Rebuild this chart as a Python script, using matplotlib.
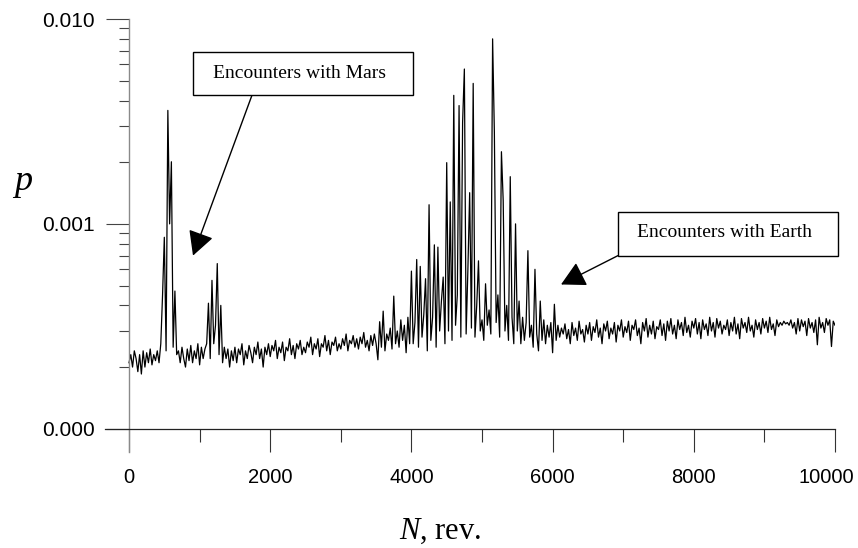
import numpy as np
import matplotlib.pyplot as plt
from matplotlib.patches import Rectangle
from matplotlib.transforms import ScaledTranslation

plt.rcParams['mathtext.fontset'] = 'custom'
plt.rcParams['mathtext.rm'] = 'Liberation Serif'
plt.rcParams['mathtext.it'] = 'Liberation Serif:italic'

# revolution number, sampled every 25 rev
N = np.arange(0, 10001, 25)

# encounter probability per step, in units of 1e-4
p_e4 = [
    2.1, 2.3, 2.0, 2.4, 2.2, 1.9, 2.3, 1.85, 2.4, 2.0, 2.35, 2.1, 2.45, 2.05, 2.3, 2.15, 2.4, 2.1, 2.6, 4.5,
    8.6, 2.4, 35.8, 10.0, 20.1, 2.5, 4.7, 2.3, 2.4, 2.1, 2.5, 2.2, 2.0, 2.45, 2.15, 2.55, 2.1, 2.4, 2.2, 2.6,
    2.05, 2.5, 2.2, 2.45, 2.6, 4.1, 2.2, 5.3, 2.6, 3.2, 6.4, 2.3, 4.0, 2.1, 2.5, 2.2, 2.45, 2.0, 2.4, 2.15,
    2.5, 2.1, 2.45, 2.3, 2.6, 2.05, 2.4, 2.2, 2.55, 2.35, 2.1, 2.5, 2.3, 2.65, 2.2, 2.45, 2.0, 2.5, 2.3, 2.6,
    2.25, 2.55, 2.4, 2.7, 2.2, 2.5, 2.35, 2.65, 2.15, 2.5, 2.4, 2.75, 2.3, 2.55, 2.2, 2.6, 2.45, 2.7, 2.3, 2.5,
    2.35, 2.65, 2.5, 2.8, 2.3, 2.6, 2.45, 2.75, 2.25, 2.6, 2.5, 2.85, 2.4, 2.7, 2.3, 2.65, 2.55, 2.8, 2.4, 2.6,
    2.45, 2.75, 2.55, 2.9, 2.4, 2.7, 2.6, 2.85, 2.5, 2.75, 2.45, 2.8, 2.6, 2.95, 2.5, 2.7, 2.4, 2.85, 2.55, 2.9,
    2.6, 2.17, 3.33, 2.5, 3.75, 2.4, 2.9, 2.7, 3.1, 2.45, 4.44, 2.6, 3.0, 2.5, 3.4, 2.7, 3.2, 2.35, 3.5, 2.6,
    5.88, 2.6, 3.3, 6.7, 2.5, 6.2, 2.8, 3.6, 5.4, 2.4, 12.4, 2.7, 3.5, 7.9, 2.5, 7.7, 3.0, 4.2, 5.5, 2.6,
    19.9, 3.0, 12.8, 2.7, 42.4, 3.2, 4.5, 37.8, 2.8, 31.2, 57.0, 2.9, 6.0, 14.2, 3.1, 48.5, 2.8, 4.0, 6.6, 3.0,
    3.4, 2.7, 5.1, 3.2, 3.8, 2.9, 80.0, 28.0, 3.3, 4.5, 2.8, 22.5, 13.0, 3.0, 4.0, 2.7, 17.0, 3.5, 2.6, 10.0,
    3.0, 4.2, 2.6, 3.5, 2.7, 3.3, 7.4, 2.8, 3.2, 2.5, 6.0, 2.9, 2.4, 4.2, 2.7, 3.4, 2.6, 3.2, 2.8, 3.3,
    2.35, 4.05, 2.7, 3.2, 2.8, 3.1, 2.9, 3.25, 2.75, 3.05, 2.6, 3.3, 2.85, 3.1, 2.7, 3.35, 2.9, 3.05, 2.65, 3.2,
    2.9, 3.3, 2.7, 3.15, 2.95, 3.4, 2.8, 3.1, 2.6, 3.25, 3.0, 3.35, 2.75, 3.1, 2.9, 3.3, 2.65, 3.2, 3.0, 3.4,
    2.8, 3.15, 2.95, 3.35, 2.7, 3.2, 3.05, 3.4, 2.85, 3.1, 2.6, 3.3, 3.0, 3.45, 2.8, 3.2, 2.9, 3.35, 2.75, 3.15,
    3.05, 3.4, 2.85, 3.25, 2.7, 3.35, 3.0, 3.45, 2.9, 3.2, 2.75, 3.4, 3.05, 3.3, 2.85, 3.5, 2.95, 3.2, 2.8, 3.35,
    3.1, 3.45, 2.9, 3.3, 2.75, 3.4, 3.05, 3.25, 2.85, 3.5, 3.0, 3.3, 2.8, 3.45, 3.1, 3.35, 2.9, 3.2, 3.05, 3.4,
    2.85, 3.3, 3.0, 3.5, 2.9, 3.25, 2.75, 3.45, 3.1, 3.3, 2.95, 3.5, 3.0, 3.2, 2.8, 3.4, 3.05, 3.3, 2.9, 3.45,
    3.1, 3.35, 2.95, 3.5, 3.05, 3.25, 2.85, 3.4, 3.15, 3.3, 3.2, 3.35, 3.25, 3.3, 3.2, 3.4, 3.1, 3.3, 2.9, 3.45,
    3.0, 3.4, 3.15, 3.35, 2.85, 3.45, 3.1, 3.3, 2.95, 3.4, 2.57, 3.5, 3.1, 3.3, 2.95, 3.45, 3.2, 3.4, 2.52, 3.35,
    3.2,
]
p = np.array(p_e4) * 1e-4

x_ticks = [0, 2000, 4000, 6000, 8000, 10000]
x_minor = [1000, 3000, 5000, 7000, 9000]
y_ticks = [1e-4, 1e-3, 1e-2]
y_labels = ["0.000", "0.001", "0.010"]

serif = "Liberation Serif"

fig = plt.figure(figsize=(8.58, 5.48), dpi=100)
ax = fig.add_axes([0.1224, 0.1752, 0.8508, 0.7901])

ax.plot(N, p, color="black", lw=0.9)

ax.set_yscale("log")
ax.set_xlim(-340, 10000)
ax.set_ylim(7.7e-5, 1e-2)

# axes cross at (0, 1e-4)
ax.spines["top"].set_visible(False)
ax.spines["right"].set_visible(False)
ax.spines["left"].set_position(("data", 0))
ax.spines["bottom"].set_position(("data", 1e-4))
ax.spines["left"].set_color("#8a8a8a")
ax.spines["bottom"].set_color("#222222")
ax.spines["left"].set_linewidth(1.0)
ax.spines["bottom"].set_linewidth(0.9)

ax.set_xticks(x_ticks)
ax.set_xticklabels([str(v) for v in x_ticks],
                   fontdict=dict(family="Liberation Sans", size=14.5))
ax.set_xticks(x_minor, minor=True)
ax.set_yticks(y_ticks)
ax.set_yticklabels(y_labels, fontdict=dict(family="Liberation Sans", size=15))
y_minor = [m * d for d in (1e-4, 1e-3) for m in range(2, 10)]
ax.set_yticks(y_minor, minor=True)
ax.yaxis.set_minor_formatter(plt.NullFormatter())

ax.tick_params(axis="x", which="major", direction="out", length=16.5, width=0.8,
               color="#333333", pad=12)
ax.tick_params(axis="x", which="minor", direction="out", length=9.5, width=0.8,
               color="#333333")
ax.tick_params(axis="y", which="major", direction="out", length=16.5, width=0.8,
               color="#444444", pad=8)
ax.tick_params(axis="y", which="minor", direction="out", length=7.2, width=0.8,
               color="#444444")

# keep the last x label inside the canvas
last = ax.get_xticklabels()[-1]
last.set_transform(last.get_transform() + ScaledTranslation(-6 / 72, 0, fig.dpi_scale_trans))

# axis titles
fig.text(23 / 858, 1 - 190 / 548, "$p$", fontsize=26, family=serif,
         ha="center", va="baseline")
fig.text(440 / 858, 9 / 548, "$N$, rev.", fontsize=22, family=serif,
         ha="center", va="baseline")

# annotation boxes with arrows
head = "-|>,head_length=1.5,head_width=0.8"
boxes = [
    ("Encounters with Mars", (906, 4.25e-3), 3117, 2.65e-3, (2408, 5.41e-3)),
    ("Encounters with Earth", (6926, 7.0e-4), 3116, 4.38e-4, (8428, 9.09e-4)),
]
for label, corner, w, h, center in boxes:
    ax.add_patch(Rectangle(corner, w, h, facecolor="white", edgecolor="black",
                           lw=1.0, zorder=5, clip_on=False))
    ax.text(center[0], center[1], label, family=serif, fontsize=14,
            ha="center", va="center", zorder=6)

ax.annotate("", xy=(906, 7.0e-4), xytext=(1742, 4.25e-3),
            arrowprops=dict(arrowstyle=head, color="black", lw=1.0,
                            mutation_scale=10, shrinkA=0, shrinkB=0))
ax.annotate("", xy=(6119, 5.06e-4), xytext=(6926, 7.0e-4),
            arrowprops=dict(arrowstyle=head, color="black", lw=1.0,
                            mutation_scale=10, shrinkA=0, shrinkB=0))

fig.savefig("out.png", dpi=100)
